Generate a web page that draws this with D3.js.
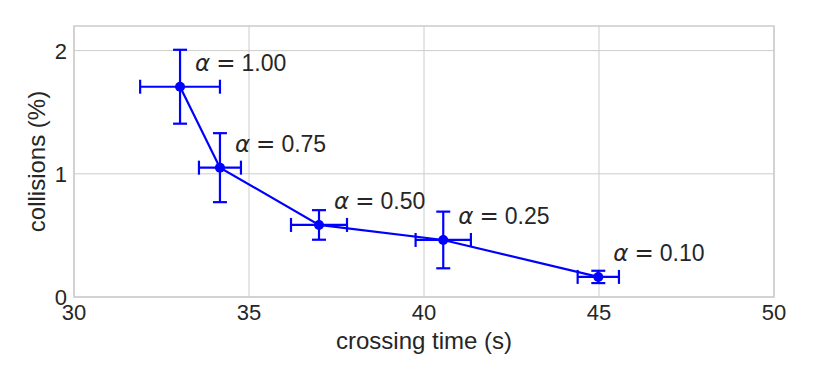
<!DOCTYPE html>
<html>
<head>
<meta charset="utf-8">
<script src="https://cdn.jsdelivr.net/npm/d3@7"></script>
<style>
  body { margin: 0; background: #fff; }
  text { font-family: "Liberation Sans", Arial, sans-serif; fill: #262626; }
  .grid line { stroke: #cccccc; stroke-width: 1; }
  .tick-label { font-size: 22px; }
  .axis-label { font-size: 24px; }
  .annot { font-size: 23px; }
</style>
</head>
<body>
<div id="chart"></div>
<script>
// data
const alphas = ["1.00", "0.75", "0.50", "0.25", "0.10"];
const crossingTime = [33.03, 34.17, 37.0, 40.55, 44.98];
const crossingErr = [1.14, 0.6, 0.8, 0.79, 0.59];
const collisions = [1.707, 1.05, 0.585, 0.463, 0.163];
const collisionErr = [0.30, 0.28, 0.12, 0.23, 0.05];
const xTicks = [30, 35, 40, 45, 50];
const yTicks = [0, 1, 2];

const margin = {top: 26, right: 40, bottom: 83, left: 74},
    width = 814 - margin.left - margin.right,
    height = 380 - margin.top - margin.bottom;

const svg = d3.select("#chart")
  .append("svg")
    .attr("width", width + margin.left + margin.right)
    .attr("height", height + margin.top + margin.bottom)
  .append("g")
    .attr("transform", `translate(${margin.left},${margin.top})`);

const x = d3.scaleLinear().domain([30, 50]).range([0, width]);
const y = d3.scaleLinear().domain([0, 2.2]).range([height, 0]);

const data = alphas.map((a, i) => ({
  alpha: a, t: crossingTime[i], te: crossingErr[i], c: collisions[i], ce: collisionErr[i]
}));

// grid
const grid = svg.append("g").attr("class", "grid");
grid.selectAll(".gx").data(xTicks).join("line")
  .attr("x1", d => x(d)).attr("x2", d => x(d))
  .attr("y1", 0).attr("y2", height);
grid.selectAll(".gy").data(yTicks).join("line")
  .attr("x1", 0).attr("x2", width)
  .attr("y1", d => y(d)).attr("y2", d => y(d));

// frame
svg.append("rect")
  .attr("width", width).attr("height", height)
  .attr("fill", "none").attr("stroke", "#cccccc").attr("stroke-width", 1.5);

// tick labels
svg.selectAll(".xt").data(xTicks).join("text")
  .attr("class", "tick-label")
  .attr("x", d => x(d)).attr("y", height + 23)
  .attr("text-anchor", "middle")
  .text(d => d);
svg.selectAll(".yt").data(yTicks).join("text")
  .attr("class", "tick-label")
  .attr("x", -7).attr("y", d => y(d) + 8)
  .attr("text-anchor", "end")
  .text(d => d);

// axis labels
svg.append("text")
  .attr("class", "axis-label")
  .attr("x", width / 2).attr("y", height + 52)
  .attr("text-anchor", "middle")
  .text("crossing time (s)");
svg.append("text")
  .attr("class", "axis-label")
  .attr("transform", `translate(-29,${height / 2}) rotate(-90)`)
  .attr("text-anchor", "middle")
  .text("collisions (%)");

const blue = "#0000ff";

// line
svg.append("path")
  .datum(data)
  .attr("fill", "none")
  .attr("stroke", blue)
  .attr("stroke-width", 2.2)
  .attr("d", d3.line().x(d => x(d.t)).y(d => y(d.c)));

// error bars
const eb = svg.append("g").attr("stroke", blue).attr("stroke-width", 2.2);
const cap = 7;
data.forEach(d => {
  const cx = x(d.t), cy = y(d.c);
  const y0 = y(d.c - d.ce), y1 = y(d.c + d.ce);
  const x0 = x(d.t - d.te), x1 = x(d.t + d.te);
  eb.append("line").attr("x1", cx).attr("x2", cx).attr("y1", y0).attr("y2", y1);
  eb.append("line").attr("x1", cx - cap).attr("x2", cx + cap).attr("y1", y0).attr("y2", y0);
  eb.append("line").attr("x1", cx - cap).attr("x2", cx + cap).attr("y1", y1).attr("y2", y1);
  eb.append("line").attr("x1", x0).attr("x2", x1).attr("y1", cy).attr("y2", cy);
  eb.append("line").attr("x1", x0).attr("x2", x0).attr("y1", cy - cap).attr("y2", cy + cap);
  eb.append("line").attr("x1", x1).attr("x2", x1).attr("y1", cy - cap).attr("y2", cy + cap);
});

// points
svg.append("g").selectAll("circle").data(data).join("circle")
  .attr("cx", d => x(d.t)).attr("cy", d => y(d.c))
  .attr("r", 5).attr("fill", blue);

// annotations
const ann = svg.append("g").selectAll("text").data(data).join("text")
  .attr("class", "annot")
  .attr("x", d => x(d.t) + 15)
  .attr("y", d => y(d.c) - 16);
ann.append("tspan").attr("font-family", "DejaVu Sans").attr("font-style", "italic").text("α");
ann.append("tspan").attr("font-family", "DejaVu Sans").attr("dx", 6).text("=");
ann.append("tspan").attr("dx", 6).text(d => d.alpha);
</script>
</body>
</html>
